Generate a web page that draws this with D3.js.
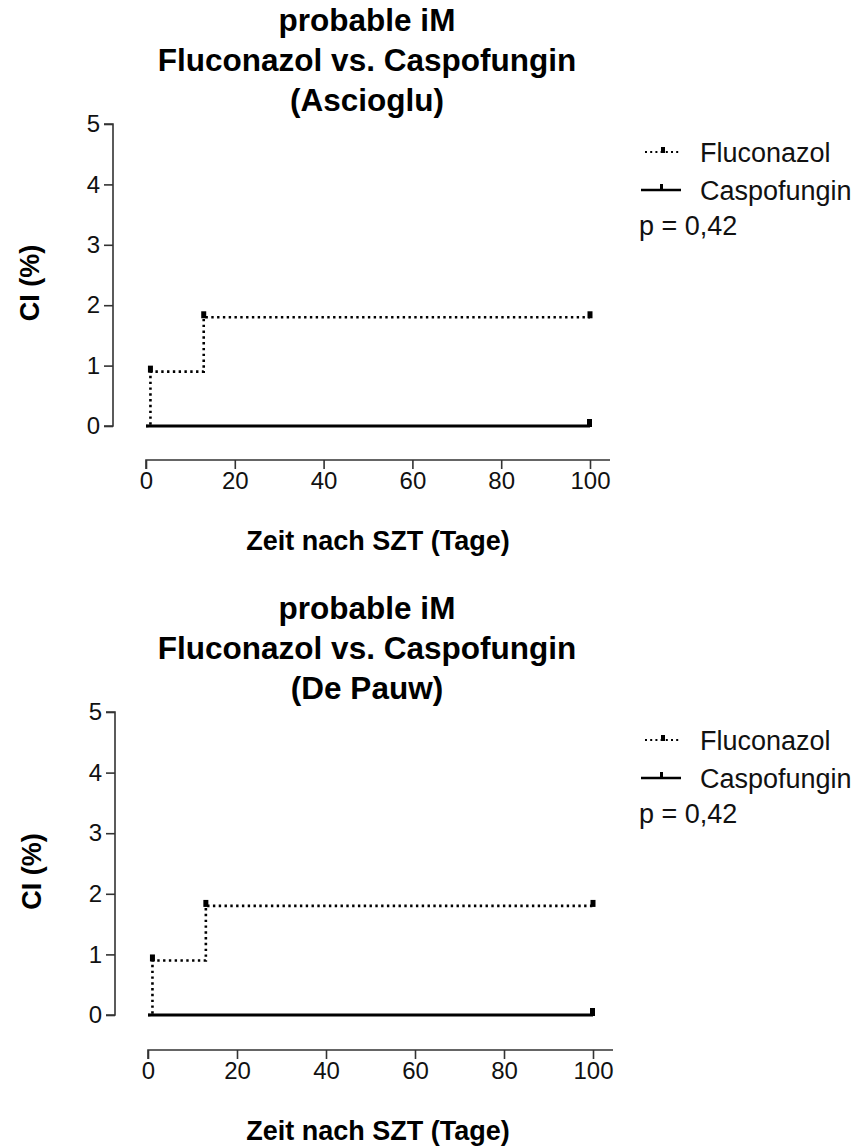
<!DOCTYPE html>
<html><head><meta charset="utf-8">
<script src="https://cdn.jsdelivr.net/npm/d3@7"></script>
<style>body{margin:0;background:#fff}svg{display:block}text{font-family:"Liberation Sans",Arial,sans-serif}</style>
</head><body>
<script>
const titleLines = [
  ["probable iM", "Fluconazol vs. Caspofungin", "(Ascioglu)"],
  ["probable iM", "Fluconazol vs. Caspofungin", "(De Pauw)"]
];
const seriesNames = ["Fluconazol", "Caspofungin"];
const flucoTimes = [0, 1, 13, 100];
const flucoCI = [0, 0.9, 1.8, 1.8];
const flucoCensor = [1, 13, 100];
const caspoTimes = [0, 100];
const caspoCI = [0, 0];
const caspoCensor = [100];
const xTicks = [0, 20, 40, 60, 80, 100];
const yTicks = [0, 1, 2, 3, 4, 5];
const pText = "p = 0,42";
const yLabel = "CI (%)";
const xLabel = "Zeit nach SZT (Tage)";

const W = 855, H = 1148;
const svg = d3.select("body").append("svg").attr("width", W).attr("height", H);

const panels = [
  {yAxisX: 113, yTop: 124, yBot: 426, xAxisY: 460, x0: 146, x100: 590, xEnd: 610},
  {yAxisX: 115, yTop: 712, yBot: 1015, xAxisY: 1050, x0: 148, x100: 593, xEnd: 613}
];

panels.forEach((p, i) => {
  const g = svg.append("g");
  const x = d3.scaleLinear().domain([0, 100]).range([p.x0, p.x100]);
  const y = d3.scaleLinear().domain([0, 5]).range([p.yBot, p.yTop]);

  // titles
  titleLines[i].forEach((t, k) => {
    g.append("text").attr("x", 367).attr("y", p.yTop - 93 + k * 40)
      .attr("text-anchor", "middle").attr("font-size", 31.5).attr("font-weight", "bold").text(t);
  });

  // y axis
  const ya = g.append("g").attr("transform", `translate(${p.yAxisX},0)`)
    .call(d3.axisLeft(y).tickValues(yTicks).tickSize(9).tickPadding(4).tickFormat(d3.format("d")));
  ya.select(".domain").attr("stroke", "#333").attr("stroke-width", 1.6).attr("d", `M-9,${p.yTop}H0V${p.yBot}H-9`);
  ya.selectAll(".tick line").attr("stroke", "#333").attr("stroke-width", 1.6);
  ya.selectAll(".tick text").attr("font-size", 24).attr("fill", "#111").style("font-family", '"Liberation Sans",Arial,sans-serif');

  // x axis
  const xa = g.append("g").attr("transform", `translate(0,${p.xAxisY})`)
    .call(d3.axisBottom(x).tickValues(xTicks).tickSize(9).tickPadding(3).tickFormat(d3.format("d")));
  xa.select(".domain").attr("stroke", "#333").attr("stroke-width", 1.6).attr("d", `M${p.x0},9V0H${p.xEnd}`);
  xa.selectAll(".tick line").attr("stroke", "#333").attr("stroke-width", 1.6);
  xa.selectAll(".tick text").attr("font-size", 24).attr("fill", "#111").style("font-family", '"Liberation Sans",Arial,sans-serif');

  // axis labels
  g.append("text").attr("transform", `translate(${p.yAxisX - 74},${(p.yTop + p.yBot) / 2 + 8}) rotate(-90)`)
    .attr("text-anchor", "middle").attr("font-size", 27).attr("font-weight", "bold").text(yLabel);
  g.append("text").attr("x", 378).attr("y", p.xAxisY + 90)
    .attr("text-anchor", "middle").attr("font-size", 27).attr("font-weight", "bold").text(xLabel);

  const line = d3.line().x(d => x(d[0])).y(d => y(d[1])).curve(d3.curveStepAfter);

  // Caspofungin
  g.append("path").datum(caspoTimes.map((t, j) => [t, caspoCI[j]]))
    .attr("d", line).attr("fill", "none").attr("stroke", "#000").attr("stroke-width", 3);
  caspoCensor.forEach(t => {
    g.append("rect").attr("x", x(t) - 3).attr("y", y(0) - 7).attr("width", 5).attr("height", 8).attr("fill", "#000");
  });

  // Fluconazol
  g.append("path").datum(flucoTimes.map((t, j) => [t, flucoCI[j]]))
    .attr("d", line).attr("fill", "none").attr("stroke", "#000").attr("stroke-width", 2.6)
    .attr("stroke-dasharray", "2.4 3.4");
  flucoCensor.forEach(t => {
    const idx = d3.bisectRight(flucoTimes, t) - 1;
    g.append("rect").attr("x", x(t) - 2.5).attr("y", y(flucoCI[idx]) - 6).attr("width", 5).attr("height", 7).attr("fill", "#000");
  });

  // legend
  const lx = 643, ly1 = p.yTop + 28, ly2 = p.yTop + 66;
  g.append("line").attr("x1", lx + 2).attr("x2", lx + 38).attr("y1", ly1).attr("y2", ly1)
    .attr("stroke", "#000").attr("stroke-width", 2.2).attr("stroke-dasharray", "2 3.2");
  g.append("rect").attr("x", lx + 18).attr("y", ly1 - 5).attr("width", 4).attr("height", 6).attr("fill", "#000");
  g.append("text").attr("x", 700).attr("y", ly1 + 9.5).attr("font-size", 27).attr("fill", "#111").text(seriesNames[0]);

  g.append("line").attr("x1", lx - 2).attr("x2", lx + 38).attr("y1", ly2).attr("y2", ly2)
    .attr("stroke", "#000").attr("stroke-width", 2.6);
  g.append("rect").attr("x", lx + 17).attr("y", ly2 - 6).attr("width", 3).attr("height", 6).attr("fill", "#000");
  g.append("text").attr("x", 700).attr("y", ly2 + 9.5).attr("font-size", 27).attr("fill", "#111").text(seriesNames[1]);

  g.append("text").attr("x", 639).attr("y", p.yTop + 111).attr("font-size", 27).attr("fill", "#111").text(pText);
});
</script>
</body></html>
